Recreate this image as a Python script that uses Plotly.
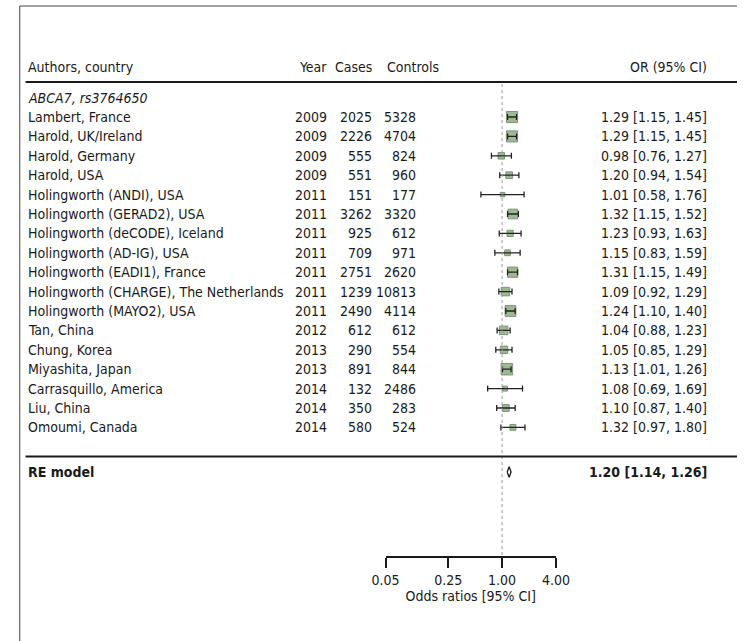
import math
import plotly.graph_objects as go

# Study-level data for ABCA7 rs3764650
studies = ["Lambert, France", "Harold, UK/Ireland", "Harold, Germany", "Harold, USA",
           "Holingworth (ANDI), USA", "Holingworth (GERAD2), USA",
           "Holingworth (deCODE), Iceland", "Holingworth (AD-IG), USA",
           "Holingworth (EADI1), France", "Holingworth (CHARGE), The Netherlands",
           "Holingworth (MAYO2), USA", "Tan, China", "Chung, Korea", "Miyashita, Japan",
           "Carrasquillo, America", "Liu, China", "Omoumi, Canada"]
years = [2009, 2009, 2009, 2009, 2011, 2011, 2011, 2011, 2011, 2011, 2011,
         2012, 2013, 2013, 2014, 2014, 2014]
cases = [2025, 2226, 555, 551, 151, 3262, 925, 709, 2751, 1239, 2490,
         612, 290, 891, 132, 350, 580]
controls = [5328, 4704, 824, 960, 177, 3320, 612, 971, 2620, 10813, 4114,
            612, 554, 844, 2486, 283, 524]
odds = [1.29, 1.29, 0.98, 1.20, 1.01, 1.32, 1.23, 1.15, 1.31, 1.09, 1.24,
        1.04, 1.05, 1.13, 1.08, 1.10, 1.32]
lower = [1.15, 1.15, 0.76, 0.94, 0.58, 1.15, 0.93, 0.83, 1.15, 0.92, 1.10,
         0.88, 0.85, 1.01, 0.69, 0.87, 0.97]
upper = [1.45, 1.45, 1.27, 1.54, 1.76, 1.52, 1.63, 1.59, 1.49, 1.29, 1.40,
         1.23, 1.29, 1.26, 1.69, 1.40, 1.80]

# Random-effects summary
re_or, re_lo, re_hi = 1.20, 1.14, 1.26

tick_vals = [0.05, 0.25, 1.00, 4.00]
tick_text = ["0.05", "0.25", "1.00", "4.00"]

W, H = 751, 641
FONT = "DejaVu Sans Condensed, sans-serif"
TXT = "#1a1a1a"
FS = 14

# vertical layout in row units (study i sits at y = -i)
ROW_PX = 19.4
FIRST_PX = 117.0
AXIS_PX = 556.0
y_top = FIRST_PX / ROW_PX
y_bot = -(AXIS_PX - FIRST_PX) / ROW_PX
rows = [-i for i in range(len(studies))]
y_header = 2.6
y_label = 1.0
y_topline = 1.8
y_sepline = -17.5
y_re = -18.3

# column anchors (px from left)
X_NAME, X_YEAR, X_CASES, X_CTRL_HDR, X_CTRL, X_OR = 12, 327, 374, 385, 420, 722


def px_x(px):
    return px / W


# box sizes scale with the study's precision (inverse SE from the CI width)
prec = [2 * 1.96 / (math.log(u) - math.log(l)) for l, u in zip(lower, upper)]
pmin, pmax = min(prec), max(prec)
sizes = [4.5 + 7 * (p - pmin) / (pmax - pmin) for p in prec]

fig = go.Figure()

fig.add_trace(go.Scatter(
    x=odds, y=rows, mode="markers",
    marker=dict(symbol="square", size=sizes, color="rgb(116,156,100)",
                line=dict(color="rgb(72,104,62)", width=1)),
    hoverinfo="skip", showlegend=False,
))
fig.add_trace(go.Scatter(
    x=odds, y=rows, mode="markers",
    marker=dict(size=1, color="rgba(0,0,0,0)"),
    error_x=dict(type="data", symmetric=False,
                 array=[u - o for u, o in zip(upper, odds)],
                 arrayminus=[o - l for o, l in zip(odds, lower)],
                 color="#222", thickness=1.3, width=3),
    hoverinfo="skip", showlegend=False,
))

# summary diamond
dh = 0.27
fig.add_trace(go.Scatter(
    x=[re_lo, re_or, re_hi, re_or, re_lo],
    y=[y_re, y_re + dh, y_re, y_re - dh, y_re],
    mode="lines", fill="toself", fillcolor="white",
    line=dict(color="#1a1a1a", width=1.3),
    hoverinfo="skip", showlegend=False,
))

ann = []


def text(xpx, y, s, anchor):
    ann.append(dict(x=px_x(xpx), xref="paper", y=y, yref="y", text=s,
                    xanchor=anchor, yanchor="middle", showarrow=False,
                    font=dict(family=FONT, size=FS, color=TXT)))


# header
text(X_NAME, y_header, "Authors, country", "left")
text(X_YEAR, y_header, "Year", "right")
text(X_CASES, y_header, "Cases", "right")
text(X_CTRL_HDR, y_header, "Controls", "left")
text(X_OR, y_header, "OR (95% CI)", "right")
text(X_NAME, y_label, "<i>ABCA7, rs3764650</i>", "left")

for i, r in enumerate(rows):
    text(X_NAME, r, studies[i], "left")
    text(X_YEAR, r, str(years[i]), "right")
    text(X_CASES, r, str(cases[i]), "right")
    text(X_CTRL, r, str(controls[i]), "right")
    text(X_OR, r, f"{odds[i]:.2f} [{lower[i]:.2f}, {upper[i]:.2f}]", "right")

text(X_NAME, y_re, "<b>RE model</b>", "left")
text(X_OR, y_re, f"<b>{re_or:.2f} [{re_lo:.2f}, {re_hi:.2f}]</b>", "right")

shapes = [
    # reference line at OR = 1
    dict(type="line", xref="x", yref="y", x0=1, x1=1, y0=y_topline - 0.1, y1=y_bot,
         line=dict(color="#9a9a9a", width=1, dash="dot")),
    # header rule and summary rule
    dict(type="line", xref="paper", yref="y", x0=px_x(12), x1=1, y0=y_topline, y1=y_topline,
         line=dict(color="#1a1a1a", width=2)),
    dict(type="line", xref="paper", yref="y", x0=px_x(12), x1=1, y0=y_sepline, y1=y_sepline,
         line=dict(color="#1a1a1a", width=2)),
    # outer frame (left and top)
    dict(type="line", xref="paper", yref="paper", x0=px_x(6), x1=px_x(6), y0=0, y1=1 - 6 / H,
         line=dict(color="#444", width=1)),
    dict(type="line", xref="paper", yref="paper", x0=px_x(6), x1=1, y0=1 - 6 / H, y1=1 - 6 / H,
         line=dict(color="#444", width=1)),
]

fig.update_layout(
    width=W, height=H,
    margin=dict(l=0, r=0, t=0, b=0),
    paper_bgcolor="white", plot_bgcolor="white",
    font=dict(family=FONT, size=FS, color=TXT),
    annotations=ann, shapes=shapes,
    xaxis=dict(type="log", range=[math.log10(0.05), math.log10(4.0)],
               domain=[386 / W, 563 / W],
               tickvals=tick_vals, ticktext=tick_text,
               ticks="outside", ticklen=10, tickwidth=1.5, tickcolor="#1a1a1a",
               showline=True, linecolor="#1a1a1a", linewidth=1.5,
               showgrid=False, zeroline=False,
               tickfont=dict(family=FONT, size=FS, color=TXT),
               title=dict(text="Odds ratios [95% CI]", standoff=2,
                          font=dict(family=FONT, size=FS, color=TXT))),
    yaxis=dict(visible=False, range=[y_bot, y_top],
               domain=[(H - AXIS_PX) / H, 1]),
)

fig.write_html("out.html")
